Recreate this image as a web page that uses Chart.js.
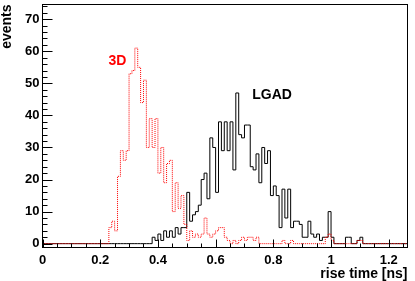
<!DOCTYPE html>
<html><head><meta charset="utf-8">
<style>html,body{margin:0;padding:0;background:#fff;}canvas{display:block;}</style>
<script src="https://cdn.jsdelivr.net/npm/chart.js@4/dist/chart.umd.min.js"></script>
</head><body>
<canvas id="c" width="415" height="281"></canvas>
<script>
// ---- data (bin lower edges start at binStart, width binWidth) ----
const binStart = 0.0;
const binWidth = 0.01;
const xEnd = 1.265;
const seriesNames = ['3D', 'LGAD'];
const counts3D = [
  0,0,0,0,0,0,0,0,0,0, 0,0,0,0,0,0,0,0,0,0,
  0,0,0,0,5,7,4,21,29,26, 29,53,54,61,55,44,51,30,39,30,
  39,22,30,19,25,26,10,19,11,15, 6,1,4,2,3,2,3,8,3,2,
  3,4,5,5,2,1,0,1,0,1, 2,1,2,2,1,2,0,0,0,0,
  0,0,0,0,1,0,0,1,0,0, 0,0,0,0,0,0,0,0,0,2,
  3,1,0,0,0,0,0,0,0,0, 1,1,0,0,0,0,0,0,0,0,
  0,0,0,0,0,0
];
const countsLGAD = [
  0,0,0,0,0,0,0,0,0,0, 0,0,0,0,0,0,0,0,0,0,
  0,0,0,0,0,0,0,0,0,0, 0,0,0,0,0,0,0,0,0,2,
  1,3,1,4,2,4,2,5,3,5, 5,16,7,9,10,12,20,22,14,33,
  30,16,38,29,38,29,38,23,47,34, 33,37,37,24,23,28,19,30,25,29,
  15,18,15,5,17,8,17,5,7,7, 6,2,2,7,3,2,3,1,2,2,
  10,2,0,0,0,0,2,2,0,0, 1,2,0,0,0,0,0,0,0,0,
  0,0,0,0,0,0
];
const xTicks = [0, 0.2, 0.4, 0.6, 0.8, 1.0, 1.2];
const xTickLabels = ['0', '0.2', '0.4', '0.6', '0.8', '1', '1.2'];
const yTicks = [0, 10, 20, 30, 40, 50, 60, 70];

function histPoints(counts) {
  const pts = counts.map((c, i) => ({x: binStart + i * binWidth, y: c}));
  pts.push({x: xEnd, y: counts[counts.length - 1]});
  return pts;
}

const FONT = "'Liberation Sans', Arial, Helvetica, sans-serif";

const frameTicks = {
  id: 'frameTicks',
  afterDatasetsDraw(chart) {
    const {ctx, chartArea: a, scales: {x, y}} = chart;
    ctx.save();
    ctx.strokeStyle = '#000';
    ctx.lineWidth = 1;
    ctx.beginPath();
    for (let k = 0; k <= 25; k++) {
      const v = k * 0.05;
      const px = Math.round(x.getPixelForValue(v)) + 0.5;
      const len = (k % 4 === 0) ? 8 : 4;
      ctx.moveTo(px, a.bottom);
      ctx.lineTo(px, a.bottom - len);
    }
    for (let k = 0; k <= 37; k++) {
      const v = k * 2;
      const py = Math.round(y.getPixelForValue(v)) + 0.5;
      const len = (k % 5 === 0) ? 10 : 5;
      ctx.moveTo(a.left, py);
      ctx.lineTo(a.left + len, py);
    }
    ctx.stroke();
    ctx.strokeRect(a.left, a.top, a.right - a.left, a.bottom - a.top);
    ctx.restore();
  }
};

const seriesLabels = {
  id: 'seriesLabels',
  afterDatasetsDraw(chart, args, opts) {
    const {ctx, scales: {x, y}} = chart;
    ctx.save();
    ctx.font = 'bold 14px ' + FONT;
    ctx.textAlign = 'left';
    ctx.textBaseline = 'alphabetic';
    opts.items.forEach(it => {
      ctx.fillStyle = it.color;
      ctx.fillText(it.text, x.getPixelForValue(it.x), y.getPixelForValue(it.y));
    });
    ctx.restore();
  }
};

new Chart(document.getElementById('c'), {
  type: 'line',
  data: {
    datasets: [
      {label: seriesNames[0], data: histPoints(counts3D), stepped: 'after',
       borderColor: '#ff0000', borderWidth: 1, borderDash: [1, 1], pointRadius: 0, fill: false},
      {label: seriesNames[1], data: histPoints(countsLGAD), stepped: 'after',
       borderColor: '#000000', borderWidth: 1, pointRadius: 0, fill: false}
    ]
  },
  options: {
    responsive: false, animation: false, devicePixelRatio: 1,
    layout: {padding: {top: 4.5, right: 7.5, left: 0, bottom: 0}},
    plugins: {
      legend: {display: false}, tooltip: {enabled: false},
      seriesLabels: {items: [
        {text: seriesNames[0], color: '#ff0000', x: 0.229, y: 55.7},
        {text: seriesNames[1], color: '#000000', x: 0.727, y: 45}
      ]}
    },
    scales: {
      x: {
        type: 'linear', min: 0, max: xEnd,
        afterBuildTicks: s => { s.ticks = xTicks.map(v => ({value: v})); },
        afterFit: s => { s.height = 281 - 247.5; s.paddingLeft = 0; s.paddingRight = 0; },
        grid: {display: false, drawTicks: false}, border: {display: false},
        ticks: {autoSkip: false, maxRotation: 0, padding: 5, color: '#000',
          font: {family: FONT, size: 13, weight: 'bold'},
          callback: (v, i) => xTickLabels[i]},
        title: {display: true, text: 'rise time [ns]', align: 'end', color: '#000',
          font: {family: FONT, size: 14, weight: 'bold', lineHeight: 1}, padding: {top: 0, bottom: 0}}
      },
      y: {
        type: 'linear', min: -1.2, max: 74.6,
        afterBuildTicks: s => { s.ticks = yTicks.map(v => ({value: v})); },
        afterFit: s => { s.width = 42.5; s.paddingTop = 0; s.paddingBottom = 0; },
        grid: {display: false, drawTicks: false}, border: {display: false},
        ticks: {autoSkip: false, padding: 3, color: '#000',
          font: {family: FONT, size: 13, weight: 'bold'},
          callback: v => String(v)},
        title: {display: true, text: 'events', align: 'end', color: '#000',
          font: {family: FONT, size: 14, weight: 'bold', lineHeight: 1}, padding: {top: 0, bottom: 0}}
      }
    }
  },
  plugins: [frameTicks, seriesLabels]
});
</script>
</body></html>
